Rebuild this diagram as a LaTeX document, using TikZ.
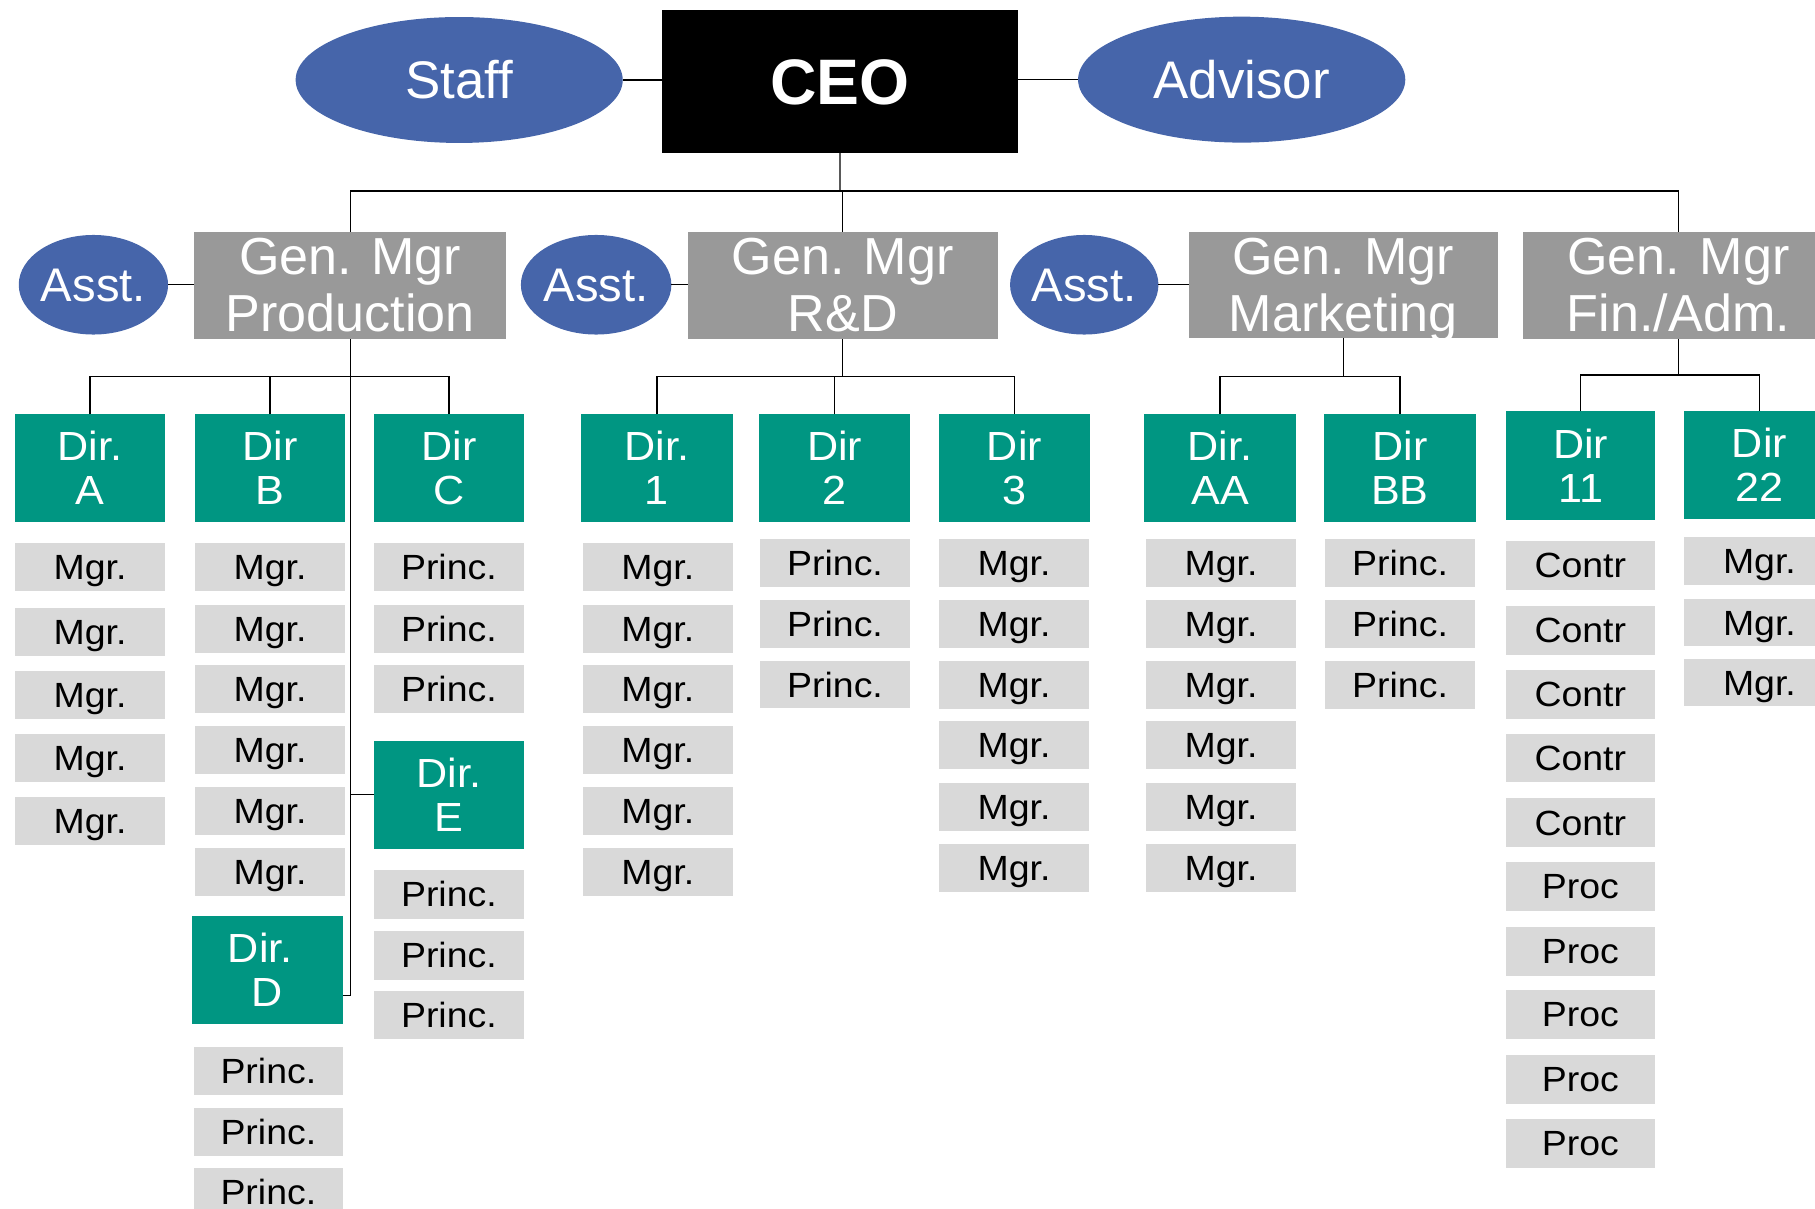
\documentclass[tikz,border=0pt]{standalone}
\usepackage{fontspec}
\setmainfont{Liberation Sans}
\usetikzlibrary{shapes.geometric}
\definecolor{ellblue}{HTML}{4665AA}
\definecolor{dirteal}{HTML}{009682}
\definecolor{gmgray}{HTML}{999999}
\definecolor{ltgray}{HTML}{D9D9D9}
% box node from corner coordinates: [style]{name}{x1}{y1}{x2}{y2}{text}
\newcommand\bnode[7]{%
  \node[#1, minimum width={(#5-#3)*0.025cm}, minimum height={(#6-#4)*0.025cm}]
    (#2) at ({(#3+#5)/2},{(#4+#6)/2}) {#7};%
}
\newcommand\graystack[6]{%
  \foreach \yy [count=\ii] in {#6} {%
    \pgfmathsetmacro\yb{\yy+#4}%
    \bnode{graybox}{#1\ii}{#2}{\yy}{#3}{\yb}{#5}%
  }%
}
\begin{document}
\begin{tikzpicture}[x=0.025cm,y=-0.025cm,
  every node/.style={inner sep=0pt, outer sep=0pt},
  conn/.style={line width=0.8pt, draw=black},
  ceobox/.style={fill=black, text=white, font=\fontsize{39.5}{44}\selectfont\bfseries, text height=28.3pt, text depth=0pt},
  bigell/.style={ellipse, fill=ellblue, text=white, font=\fontsize{32.5}{36}\selectfont, text height=23.3pt, text depth=0pt, minimum height=108.8*0.025cm},
  asst/.style={ellipse, fill=ellblue, text=white, font=\fontsize{29}{32}\selectfont, text height=20.8pt, text depth=0pt, minimum height=86*0.025cm},
  gmbox/.style={fill=gmgray, text=white, align=center, font=\fontsize{32}{35}\selectfont},
  dirbox/.style={fill=dirteal, text=white, align=center, font=\fontsize{25}{27}\selectfont\addfontfeatures{FakeStretch=1.06}},
  graybox/.style={fill=ltgray, text=black, font=\fontsize{21.5}{24}\selectfont\addfontfeatures{FakeStretch=1.07}, text height=15.4pt, text depth=0pt},
]
\useasboundingbox (0,0) rectangle (1568,1044);
\clip (0,0) rectangle (1568,1044);

% top level
\bnode{ceobox}{ceo}{571.8}{8.6}{879.4}{131.9}{CEO}
\node[bigell, minimum width=282.6*0.025cm] (staff) at (396.7,69.1) {Staff};
\node[bigell, minimum width=282.7*0.025cm] (advisor) at (1072.7,68.8) {Advisor};

% general managers
\bnode{gmbox}{gmp}{168}{200}{437}{293}{Gen. Mgr\\Production}
\bnode{gmbox}{gmr}{594}{200}{862}{293}{Gen. Mgr\\R\&D}
\bnode{gmbox}{gmm}{1027}{200}{1294}{292}{Gen. Mgr\\\smash{Marketing}}
\bnode{gmbox}{gmf}{1316}{200}{1584}{293}{Gen. Mgr\\Fin./Adm.}

% assistants
\node[asst, minimum width=129*0.025cm] (as1) at (80.7,246) {Asst.};
\node[asst, minimum width=130*0.025cm] (as2) at (515,246) {Asst.};
\node[asst, minimum width=128*0.025cm] (as3) at (936.7,246) {Asst.};

% directors
\bnode{dirbox}{dA}{13}{358}{142.5}{451}{Dir.\\A}
\bnode{dirbox}{dB}{168.6}{358}{298}{451}{Dir\\B}
\bnode{dirbox}{dC}{323}{358}{453}{451}{Dir\\C}
\bnode{dirbox}{d1}{502}{358}{633}{451}{Dir.\\1}
\bnode{dirbox}{d2}{655.7}{358}{786.3}{451}{Dir\\2}
\bnode{dirbox}{d3}{811}{358}{941.7}{451}{Dir\\3}
\bnode{dirbox}{dAA}{988.3}{358}{1119.7}{451}{Dir.\\AA}
\bnode{dirbox}{dBB}{1143.8}{358}{1275}{451}{Dir\\BB}
\bnode{dirbox}{d11}{1301}{355}{1430}{449}{Dir\\11}
\bnode{dirbox}{d22}{1455}{355}{1585}{448.4}{Dir\\22}
\bnode{dirbox}{dD}{166}{791.4}{296}{884.4}{Dir.\kern8.8pt\\D}
\bnode{dirbox}{dE}{323}{640}{453}{733.2}{Dir.\\E}

% staff boxes
\graystack{ga}{13}{142.5}{41.5}{Mgr.}{469,525,580,634,688.6}
\graystack{gb}{168.6}{298}{41.5}{Mgr.}{469,522.6,574.5,627,680,732.6}
\graystack{gd}{167.7}{296}{41.3}{Princ.}{904.6,957,1009}
\graystack{gc}{323}{452.6}{41.5}{Princ.}{469,522.6,574.5}
\graystack{ge}{323}{452.6}{42}{Princ.}{751.6,804.3,856}
\graystack{gone}{503.6}{633}{41.5}{Mgr.}{469,522.6,574.5,627,680,732.6}
\graystack{gtwo}{656.8}{786}{41}{Princ.}{465.7,518.4,571}
\graystack{gthree}{811}{941}{41.5}{Mgr.}{465.7,518.4,571,623,676.5,729}
\graystack{gaa}{990}{1119.7}{41.5}{Mgr.}{465.7,518.4,571,623,676.5,729}
\graystack{gbb}{1144.7}{1274.4}{41.5}{Princ.}{465.7,518.4,571}
\graystack{gelc}{1301}{1429.5}{42}{Contr}{467.4,523.5,578.8,634,689.6}
\graystack{gelp}{1301}{1429.5}{42}{Proc}{744.7,800.9,855.3,911.4,966.7}
\graystack{gtt}{1455}{1585}{41}{Mgr.}{464,517.5,569.3}

% connectors: top
\draw[conn] (staff.east) -- (staff.east -| ceo.west);
\draw[conn] (advisor.west -| ceo.east) -- (advisor.west);
\coordinate (tb) at (725.6,165);
\draw[conn] (ceo.south) -- (tb);
\draw[conn] (gmp.north) |- (tb) -| (gmf.north);
\draw[conn] (gmr.north) -- (gmr.north |- tb);

% assistants
\draw[conn] (as1.east) -- (as1.east -| gmp.west);
\draw[conn] (as2.east) -- (as2.east -| gmr.west);
\draw[conn] (as3.east) -- (as3.east -| gmm.west);

% production
\coordinate (pb) at (302.5,325);
\coordinate (pv) at (302.5,860);
\draw[conn] (gmp.south) -- (pv) -- (pv -| dD.east);
\draw[conn] (dA.north) |- (pb) -| (dC.north);
\draw[conn] (dB.north) -- (dB.north |- pb);
\draw[conn] (dE.west) -- (dE.west -| pv);

% R&D
\draw[conn] (gmr.south) -- (gmr.south |- pb);
\draw[conn] (d1.north) |- (gmr.south |- pb) -| (d3.north);
\draw[conn] (d2.north) -- (d2.north |- pb);

% marketing
\draw[conn] (gmm.south) -- (gmm.south |- pb);
\draw[conn] (dAA.north) |- (gmm.south |- pb) -| (dBB.north);

% finance
\coordinate (fb) at (1450,324);
\draw[conn] (gmf.south) -- (fb);
\draw[conn] (d11.north) |- (fb) -| (d22.north);
\end{tikzpicture}
\end{document}
